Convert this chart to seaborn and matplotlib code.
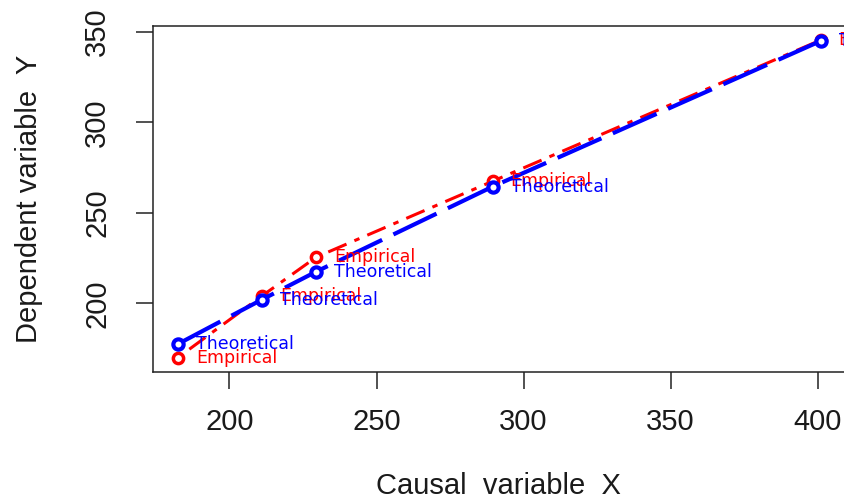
import matplotlib
matplotlib.use("Agg")
import matplotlib.pyplot as plt
import seaborn as sns
import pandas as pd

# ---- data ----
x_values = [182.5, 211.0, 229.5, 289.5, 401.0]
empirical_y = [170.0, 204.0, 225.5, 267.5, 345.5]
theoretical_y = [177.5, 202.0, 217.5, 264.5, 345.0]
x_ticks = [200, 250, 300, 350, 400]
y_ticks = [200, 250, 300, 350]
x_label = "Causal  variable  X"
y_label = "Dependent variable  Y"

df_emp = pd.DataFrame({"x": x_values, "y": empirical_y})
df_theo = pd.DataFrame({"x": x_values, "y": theoretical_y})

sns.set_theme(style="white")
plt.rcParams["font.family"] = ["Liberation Sans", "DejaVu Sans"]

fig = plt.figure(figsize=(8.45, 5.0), dpi=100)
ax = fig.add_axes([153 / 845, 128 / 500, (846.5 - 153) / 845, 346 / 500])

RED = "#ff0000"
BLUE = "#0000ff"

# Empirical series (red, dot-dash)
sns.lineplot(data=df_emp, x="x", y="y", ax=ax, sort=False, estimator=None,
             color=RED, lw=2.2, linestyle=(0, (1.8, 2.8, 6.5, 2.8)), zorder=2)
ax.plot(df_emp["x"], df_emp["y"], linestyle="none", marker="o", ms=7.4,
        mfc="white", mec=RED, mew=2.5, zorder=3)

# Theoretical series (blue, long dash)
sns.lineplot(data=df_theo, x="x", y="y", ax=ax, sort=False, estimator=None,
             color=BLUE, lw=3.0, linestyle=(0, (11.5, 3.0)), zorder=4)
ax.plot(df_theo["x"], df_theo["y"], linestyle="none", marker="o", ms=7.4,
        mfc="white", mec=BLUE, mew=3.0, zorder=5)

for xv, yv in zip(x_values, empirical_y):
    ax.annotate("Empirical", (xv, yv), xytext=(13, 0), textcoords="offset points",
                ha="left", va="center", color=RED, fontsize=12.5,
                family=["DejaVu Sans"], zorder=6, annotation_clip=False)
for xv, yv in zip(x_values, theoretical_y):
    ax.annotate("Theoretical", (xv, yv), xytext=(13, 0), textcoords="offset points",
                ha="left", va="center", color=BLUE, fontsize=12.5,
                family=["DejaVu Sans"], zorder=7, annotation_clip=False)

ax.set_xlim(174.0, 409.8)
ax.set_ylim(162.0, 353.3)
ax.set_xticks(x_ticks)
ax.set_yticks(y_ticks)
ax.set_xlabel("")
ax.set_ylabel("")

ax.tick_params(axis="both", which="both", direction="out", length=12, width=1.1,
               color="#222222", labelsize=21, labelcolor="#1a1a1a")
ax.tick_params(axis="x", pad=14, bottom=True)
ax.tick_params(axis="y", pad=18, left=True)
for lab in ax.get_yticklabels():
    lab.set_rotation(90)
    lab.set_va("center")

for sp in ax.spines.values():
    sp.set_visible(True)
    sp.set_color("#222222")
    sp.set_linewidth(1.1)

fig.text(498 / 845, 1 - 494 / 500, x_label, ha="center", va="baseline",
         fontsize=21, color="#1a1a1a")
fig.text(37 / 845, 1 - 199 / 500, y_label, ha="center", va="baseline",
         rotation=90, rotation_mode="anchor", fontsize=21, color="#1a1a1a")

fig.savefig("out.png", dpi=100, facecolor="white")
